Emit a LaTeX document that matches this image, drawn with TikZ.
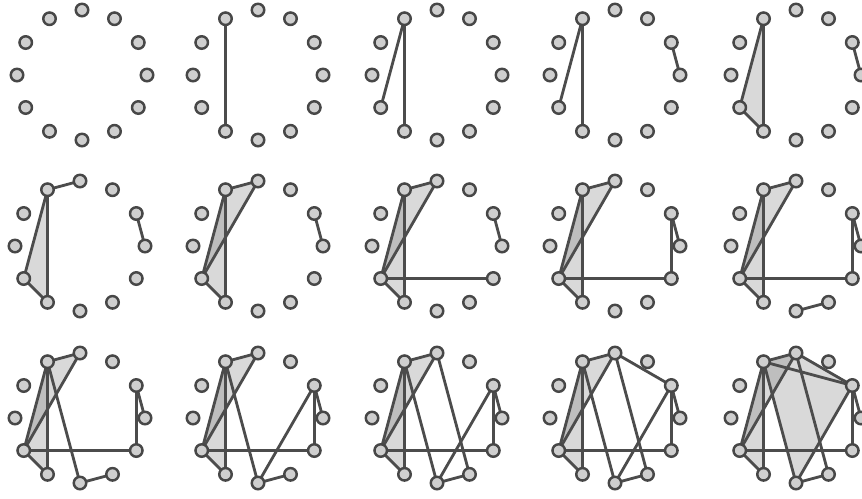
\documentclass[tikz,border=0pt]{standalone}
\usepackage{tikz}
\usetikzlibrary{backgrounds}

\begin{document}
\begin{tikzpicture}[x=0.02cm, y=-0.02cm,
  vert/.style={circle, draw=black!72, fill=gray!38, line width=1.4pt,
    minimum size=0.25cm, inner sep=0pt},
  link/.style={draw=black!70, line width=1.6pt, line cap=round},
  face/.style={fill=gray, fill opacity=0.3}
]
  \useasboundingbox (0,0) rectangle (862,498);

  % twelve vertices per panel
  \foreach \p/\cx/\cy in {1/82/75, 2/258/75, 3/437/75, 4/615/75, 5/796/75,
      6/80/246, 7/258/246, 8/437/246, 9/615/246, 10/796/246,
      11/80/418, 12/258/418, 13/437/418, 14/615/418, 15/796/418}
    \foreach \k in {0,...,11}
      \node[vert] (p\p-\k) at ({\cx+65*cos(90-30*\k)}, {\cy-65*sin(90-30*\k)}) {};

  \begin{scope}[on background layer]
    % shaded triangles
    \foreach \p/\tris in {5/{11/7/8}, 6/{11/7/8},
        7/{11/7/8, 0/11/8}, 8/{11/7/8, 0/11/8}, 9/{11/7/8, 0/11/8},
        10/{11/7/8, 0/11/8}, 11/{11/7/8, 0/11/8}, 12/{11/7/8, 0/11/8},
        13/{11/7/8, 0/11/8}, 14/{11/7/8, 0/11/8},
        15/{11/7/8, 0/11/8, 11/0/2, 11/2/6}}
      \foreach \a/\b/\c in \tris
        \fill[face] (p\p-\a.center) -- (p\p-\b.center) -- (p\p-\c.center) -- cycle;

    % edges, added one step at a time
    \foreach \p/\edges in {2/{11/7}, 3/{11/7, 11/8}, 4/{11/7, 11/8, 2/3},
        5/{11/7, 11/8, 2/3, 7/8},
        6/{11/7, 11/8, 2/3, 7/8, 11/0},
        7/{11/7, 11/8, 2/3, 7/8, 11/0, 0/8},
        8/{11/7, 11/8, 2/3, 7/8, 11/0, 0/8, 8/4},
        9/{11/7, 11/8, 2/3, 7/8, 11/0, 0/8, 8/4, 2/4},
        10/{11/7, 11/8, 2/3, 7/8, 11/0, 0/8, 8/4, 2/4, 5/6},
        11/{11/7, 11/8, 2/3, 7/8, 11/0, 0/8, 8/4, 2/4, 5/6, 11/6},
        12/{11/7, 11/8, 2/3, 7/8, 11/0, 0/8, 8/4, 2/4, 5/6, 11/6, 2/6},
        13/{11/7, 11/8, 2/3, 7/8, 11/0, 0/8, 8/4, 2/4, 5/6, 11/6, 2/6, 0/5},
        14/{11/7, 11/8, 2/3, 7/8, 11/0, 0/8, 8/4, 2/4, 5/6, 11/6, 2/6, 0/5, 0/2},
        15/{11/7, 11/8, 2/3, 7/8, 11/0, 0/8, 8/4, 2/4, 5/6, 11/6, 2/6, 0/5, 0/2, 11/2}}
      \foreach \a/\b in \edges
        \draw[link] (p\p-\a.center) -- (p\p-\b.center);
  \end{scope}
\end{tikzpicture}
\end{document}
